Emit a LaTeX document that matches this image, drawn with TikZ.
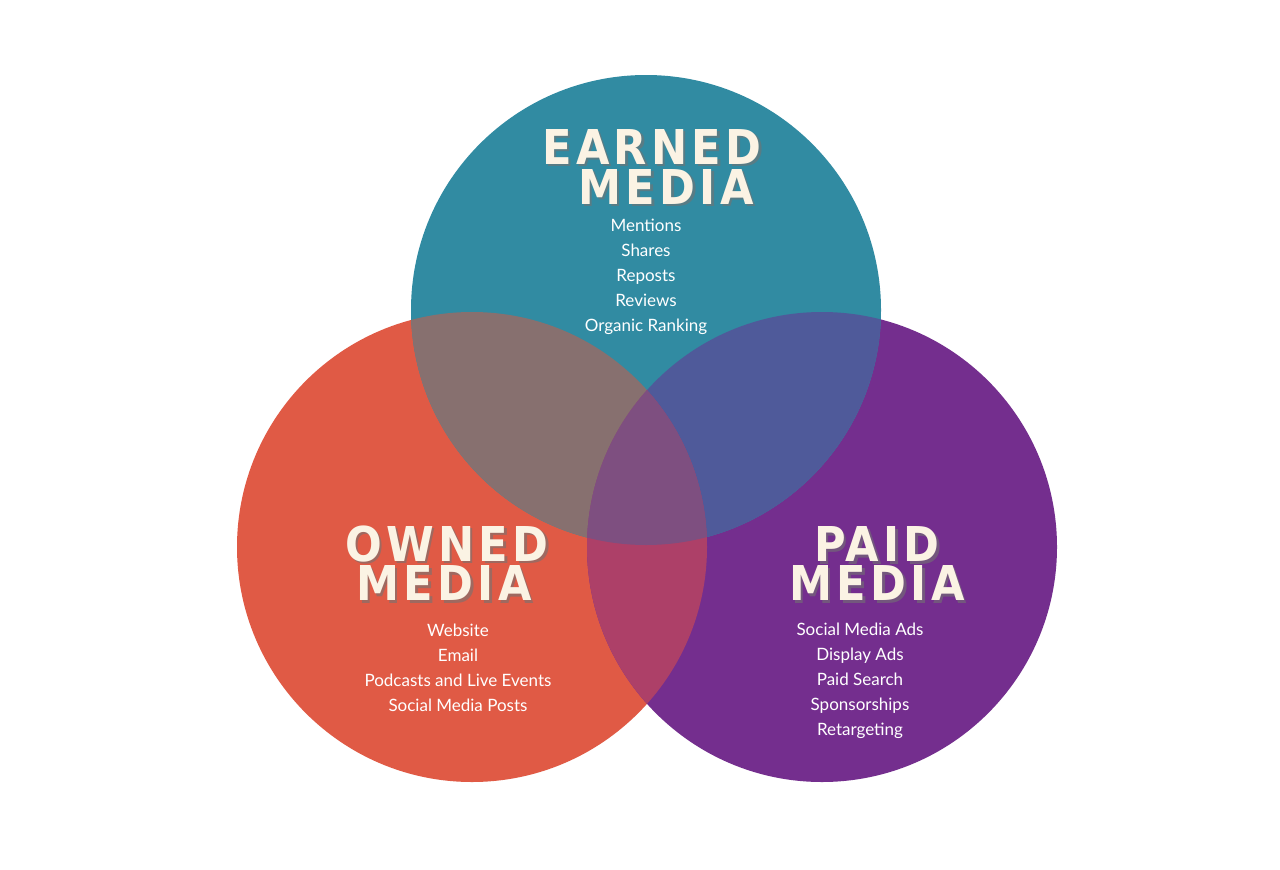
\documentclass[tikz,border=0pt]{standalone}
\usepackage{fontspec}
\setmainfont{Lato}
\newfontfamily\titlefont[LetterSpace=9]{DejaVu Sans Condensed}
\definecolor{cE}{HTML}{318BA2}
\definecolor{cO}{HTML}{E05A45}
\definecolor{cP}{HTML}{742E8E}
\definecolor{cEO}{HTML}{87706F}
\definecolor{cEP}{HTML}{4F5A9A}
\definecolor{cOP}{HTML}{AD4068}
\definecolor{cC}{HTML}{7E4F80}
\definecolor{cream}{HTML}{FBF3E4}
\tikzset{
  ttl/.style={font=\titlefont\bfseries\fontsize{48}{48}\selectfont, text=cream, inner sep=0},
  shd/.style={font=\titlefont\bfseries\fontsize{48}{48}\selectfont, text=black!55, opacity=0.6, inner sep=0},
  item/.style={font=\fontsize{17}{25}\selectfont, text=white, align=center, inner sep=0}
}
\begin{document}
\begin{tikzpicture}[x=1pt,y=-1pt]
\useasboundingbox[fill=white] (0,0) rectangle (1280,870);
\def\Ec{(646,310) circle (235)}
\def\Oc{(472,547) circle (235)}
\def\Pc{(822,547) circle (235)}
\fill[cO] \Oc; \fill[cP] \Pc; \fill[cE] \Ec;
\begin{scope}\clip \Ec; \fill[cEO] \Oc; \fill[cEP] \Pc; \end{scope}
\begin{scope}\clip \Oc; \fill[cOP] \Pc; \end{scope}
\begin{scope}\clip \Ec; \clip \Oc; \fill[cC] \Pc; \end{scope}
% titles
\foreach \x/\y/\t [count=\i] in {652/147/EARNED,666/187/MEDIA,447/544/OWNED,444/583/MEDIA,877/544/PAID,877/583/MEDIA}{
  \node[shd] (s\i) at (\x+2.5,\y+2.5) {\t};
  \node[ttl] (t\i) at (\x,\y) {\t};
}
\node[item] (ei) at (646,277) {Mentions\\Shares\\Reposts\\Reviews\\Organic Ranking};
\node[item] (oi) at (458,668) {Website\\Email\\Podcasts and Live Events\\Social Media Posts};
\node[item] (pi) at (860,681) {Social Media Ads\\Display Ads\\Paid Search\\Sponsorships\\Retargeting};
\end{tikzpicture}
\end{document}
